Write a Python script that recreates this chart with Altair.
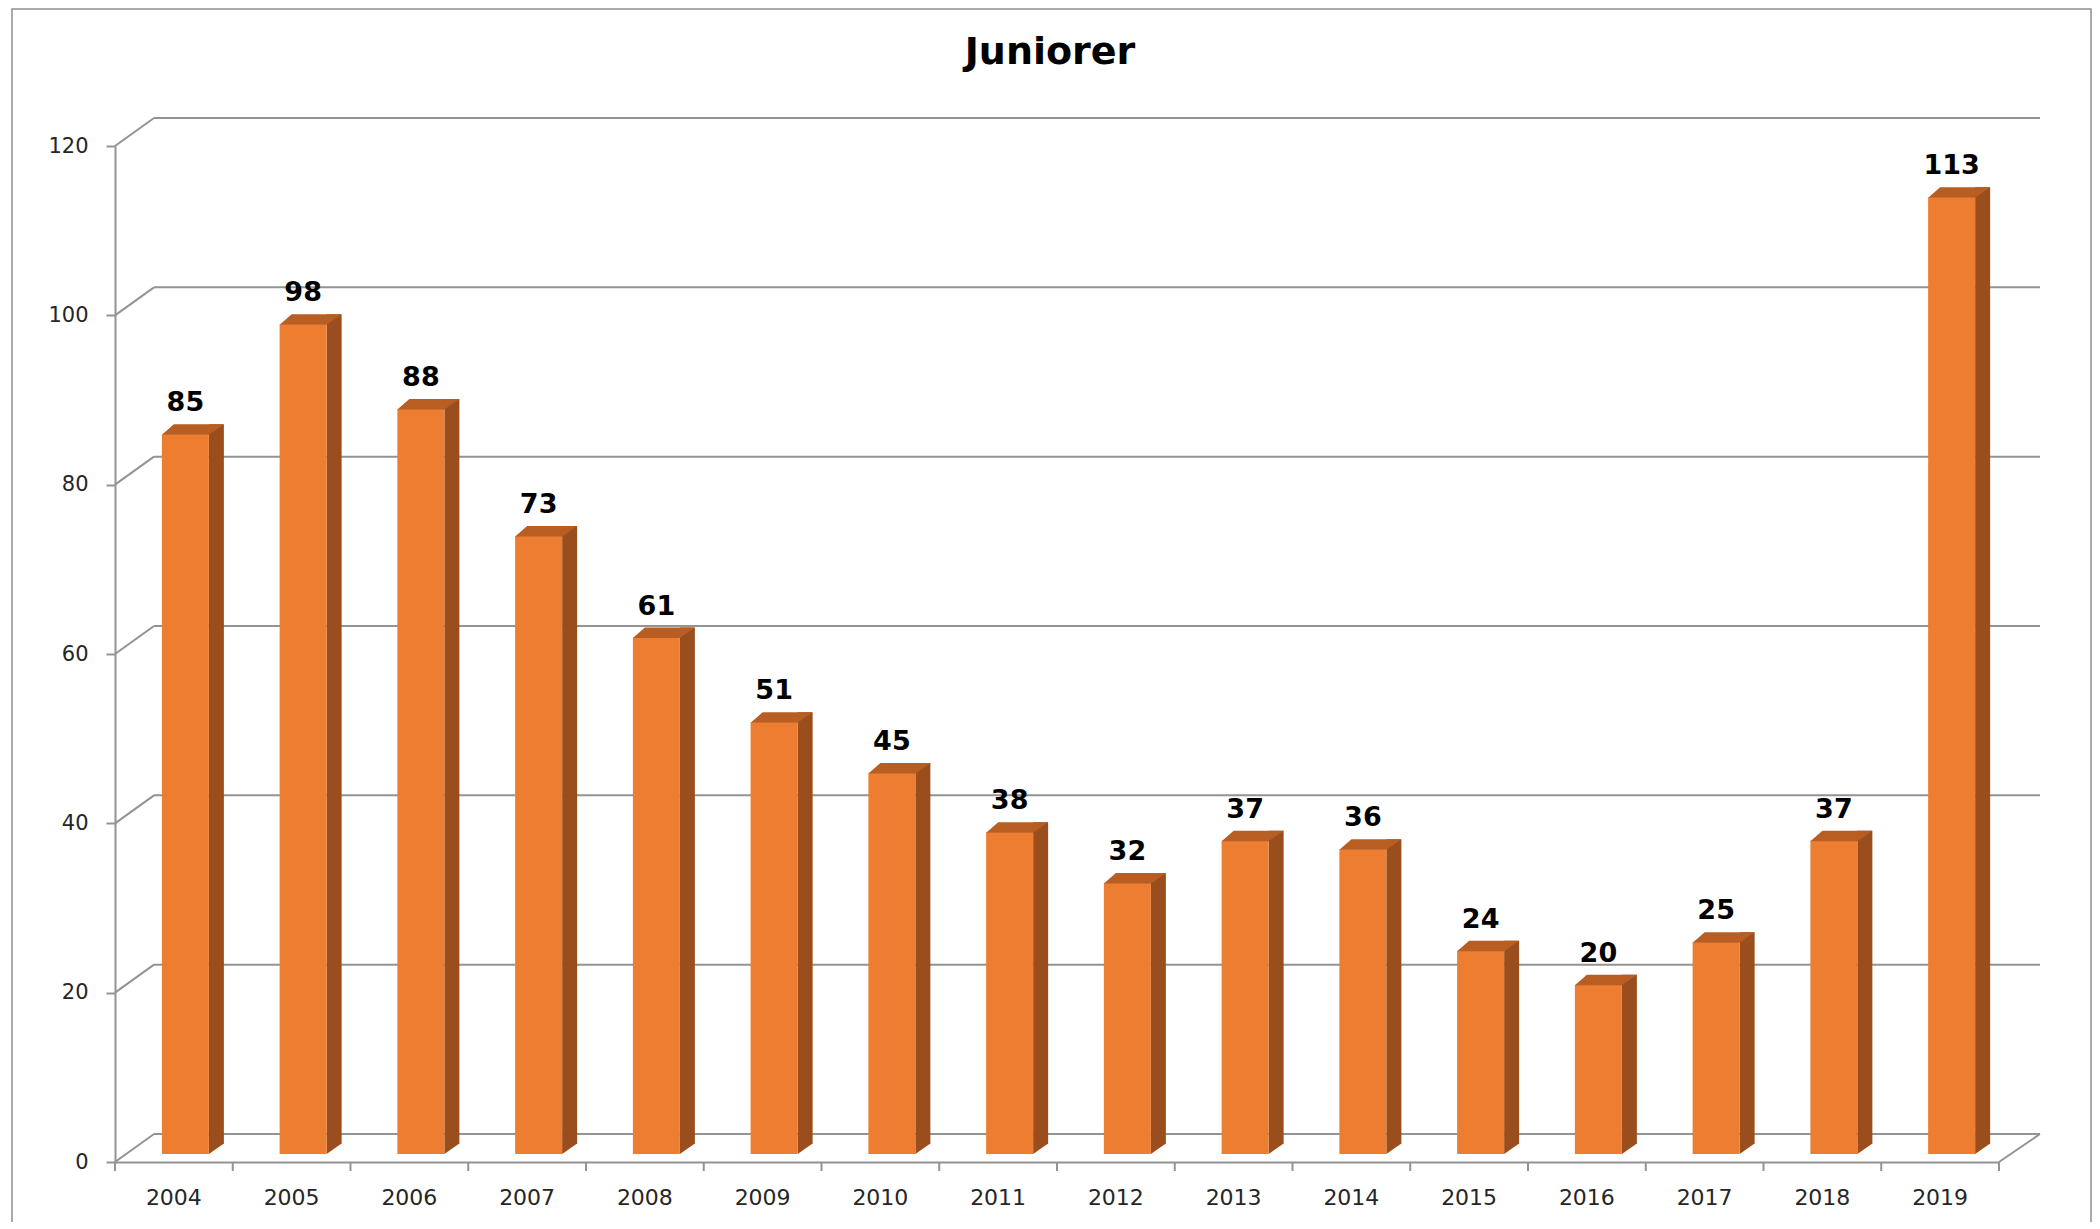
import altair as alt
import pandas as pd

years = ["2004", "2005", "2006", "2007", "2008", "2009", "2010", "2011",
         "2012", "2013", "2014", "2015", "2016", "2017", "2018", "2019"]
values = [85, 98, 88, 73, 61, 51, 45, 38, 32, 37, 36, 24, 20, 25, 37, 113]
y_ticks = [0, 20, 40, 60, 80, 100, 120]
title_text = "Juniorer"

FRONT = "#ED7D31"
SIDE = "#9A4E1E"
TOP = "#B95E22"
LINE = "#939393"
FONT = "DejaVu Sans"

W, H = 1884, 1016
DX, DY = 39, -28          # depth of the back wall
BASE = -8                 # bar base sits slightly behind the front edge

df = pd.DataFrame({"year": years, "value": values})
grid = pd.DataFrame({"v": y_ticks})

xs = alt.Scale(domain=years, paddingInner=0, paddingOuter=0)
ys = alt.Scale(domain=[0, 120], nice=False, zero=True)

x_axis = alt.Axis(title=None, labelAngle=0, ticks=False, bandPosition=0.5,
                  labelAlign="center",
                  domainColor=LINE, domainWidth=2,
                  labelFont=FONT, labelFontSize=22, labelColor="#262626",
                  labelPadding=25)
y_axis = alt.Axis(title=None, values=y_ticks, grid=False,
                  tickSize=9, tickColor=LINE, tickWidth=2,
                  domainColor=LINE, domainWidth=2,
                  labelFont=FONT, labelFontSize=21, labelColor="#262626",
                  labelPadding=18)

x_enc = alt.X("year:N", scale=xs, sort=years, axis=x_axis)
y_enc = alt.Y("value:Q", scale=ys, axis=y_axis)

base = alt.Chart(df)

# outer frame
frame = alt.Chart(pd.DataFrame({"a": [0]})).mark_rect(
    fillOpacity=0, stroke="#8f8f8f", strokeWidth=1.5
).encode(x=alt.value(-103), x2=alt.value(1976), y=alt.value(-137), y2=alt.value(1200))

# category tick marks at band edges
xticks = base.mark_rule(color=LINE, strokeWidth=2, y2Offset=9).encode(
    x=alt.X("year:N", scale=xs, sort=years, bandPosition=0, axis=x_axis),
    y=alt.Y(datum=0, scale=ys, axis=y_axis),
    y2=alt.datum(0),
)
xtick_end = alt.Chart(pd.DataFrame({"a": [0]})).mark_rule(
    color=LINE, strokeWidth=2, y2Offset=9
).encode(
    x=alt.X(datum=years[-1], type="nominal", scale=xs, bandPosition=1, axis=x_axis),
    y=alt.Y(datum=0, scale=ys, axis=y_axis),
    y2=alt.datum(0),
)

# back wall gridlines
gridlines = alt.Chart(grid).mark_rule(
    color=LINE, strokeWidth=2, xOffset=DX, x2Offset=DX + 2, yOffset=DY
).encode(
    x=alt.X(datum=years[0], type="nominal", scale=xs, bandPosition=0, axis=x_axis),
    x2=alt.X2(datum=years[-1], bandPosition=1),
    y=alt.Y("v:Q", scale=ys, axis=y_axis),
)
# side wall diagonals
diagonals = alt.Chart(grid).mark_rule(
    color=LINE, strokeWidth=2, x2Offset=DX, y2Offset=DY
).encode(
    x=alt.X(datum=years[0], type="nominal", scale=xs, bandPosition=0, axis=x_axis),
    x2=alt.X2(datum=years[0], bandPosition=0),
    y=alt.Y("v:Q", scale=ys, axis=y_axis),
    y2=alt.Y2("v:Q"),
)
# floor right edge
floor_right = alt.Chart(pd.DataFrame({"v": [0]})).mark_rule(
    color=LINE, strokeWidth=2, x2Offset=DX + 2, y2Offset=DY
).encode(
    x=alt.X(datum=years[-1], type="nominal", scale=xs, bandPosition=1, axis=x_axis),
    x2=alt.X2(datum=years[-1], bandPosition=1),
    y=alt.Y("v:Q", scale=ys, axis=y_axis),
    y2=alt.Y2("v:Q"),
)

front = base.mark_bar(size=47, xOffset=11.5, yOffset=BASE, y2Offset=BASE,
                      color=FRONT).encode(x=x_enc, y=y_enc, y2=alt.datum(0))
side = base.mark_bar(size=15, xOffset=42.5, yOffset=BASE - 10, y2Offset=BASE - 10,
                     color=SIDE).encode(x=x_enc, y=y_enc, y2=alt.datum(0))
side_bottom = base.mark_point(
    shape="M23.5,0 L23.5,-10.5 L38.5,-10.5 Z", size=4, filled=True, opacity=1,
    strokeWidth=0, fill=SIDE, xOffset=11.5, yOffset=BASE
).encode(x=x_enc, y=alt.Y(datum=0, scale=ys, axis=y_axis))
top = base.mark_point(
    shape="M-23.5,0.5 L23.5,0.5 L38.5,-10 L-11.5,-10 Z", size=4, filled=True,
    opacity=1, strokeWidth=0, fill=TOP, xOffset=11.5, yOffset=BASE
).encode(x=x_enc, y=y_enc)

labels = base.mark_text(
    font=FONT, fontSize=27, fontWeight="bold", color="#000000",
    align="center", baseline="alphabetic", xOffset=11.5, yOffset=BASE - 23
).encode(x=x_enc, y=y_enc, text=alt.Text("value:Q"))

chart = alt.layer(
    frame, gridlines, diagonals, floor_right, xticks, xtick_end,
    side, side_bottom, front, top, labels
).properties(
    width=W, height=H,
    title=alt.TitleParams(title_text, font=FONT, fontSize=38, fontWeight="bold",
                          color="#000000", anchor="middle", baseline="alphabetic",
                          offset=-94, dx=-7),
    autosize=alt.AutoSizeParams(type="none"),
    padding={"left": 107, "top": 138, "right": 93, "bottom": 60},
    background="white",
).configure_view(strokeWidth=0, stroke="transparent")

chart.save("out.html", embed_options={"renderer": "svg", "actions": False})
